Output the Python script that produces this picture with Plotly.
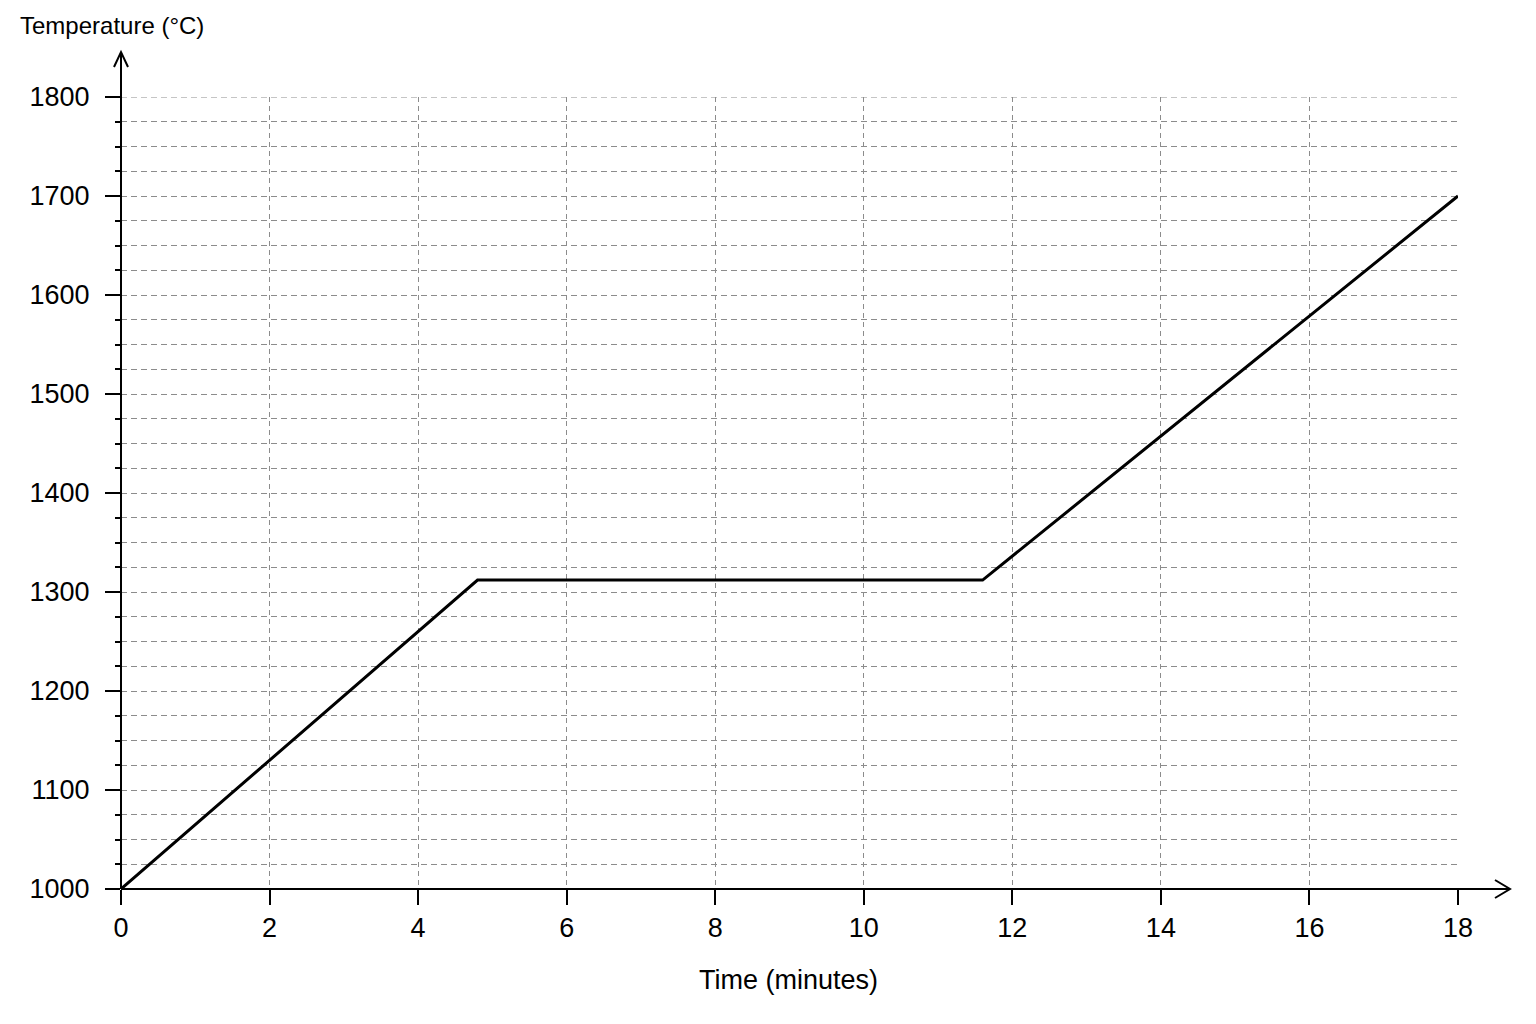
import plotly.graph_objects as go

# readings from the chart
time_min = [0, 4.8, 11.6, 18]
temp_c = [1000, 1312, 1312, 1700]

x_ticks = [0, 2, 4, 6, 8, 10, 12, 14, 16, 18]
y_ticks = [1000, 1100, 1200, 1300, 1400, 1500, 1600, 1700, 1800]

FONT = "Liberation Sans Narrow, Liberation Sans, Arial"
GRID = "#8c8c8c"

# plot area size in px (used to place the axis arrows in paper units)
W, H = 1337, 792

fig = go.Figure()

fig.add_trace(go.Scatter(
    x=time_min,
    y=temp_c,
    mode="lines",
    line=dict(color="black", width=3),
    hoverinfo="skip",
))

# axis lines with open arrow heads
ext_x = 52 / W
ext_y = 45 / H
shapes = [
    # top grid line (plotly drops the one on the range edge)
    dict(type="line", xref="paper", yref="y", x0=0, x1=1,
         y0=y_ticks[-1], y1=y_ticks[-1], layer="below",
         line=dict(color=GRID, width=1, dash="6px,4px")),
    dict(type="line", xref="paper", yref="paper", x0=0, y0=0, x1=1 + ext_x, y1=0,
         line=dict(color="black", width=2), layer="above"),
    dict(type="line", xref="paper", yref="paper", x0=0, y0=0, x1=0, y1=1 + ext_y,
         line=dict(color="black", width=2), layer="above"),
    dict(type="path", xref="paper", yref="paper", layer="above",
         path="M %f,%f L %f,%f L %f,%f" % (1 + ext_x - 15 / W, 9 / H, 1 + ext_x, 0,
                                           1 + ext_x - 15 / W, -9 / H),
         line=dict(color="black", width=2)),
    dict(type="path", xref="paper", yref="paper", layer="above",
         path="M %f,%f L %f,%f L %f,%f" % (-7 / W, 1 + ext_y - 15 / H, 0, 1 + ext_y,
                                           7 / W, 1 + ext_y - 15 / H),
         line=dict(color="black", width=2)),
]

fig.update_layout(
    width=1520,
    height=1008,
    margin=dict(l=113, r=70, t=89, b=127),
    paper_bgcolor="white",
    plot_bgcolor="white",
    showlegend=False,
    font=dict(family=FONT, color="black", size=27),
    shapes=shapes,
    annotations=[
        dict(text="Temperature (°C)", xref="paper", yref="paper",
             x=-9 / W, y=1 + 72 / H, xanchor="center", yanchor="middle",
             showarrow=False, font=dict(family=FONT, size=24, color="black")),
        dict(text="Time (minutes)", xref="paper", yref="paper",
             x=(788 - 121) / W, y=-91 / H, xanchor="center", yanchor="middle",
             showarrow=False, font=dict(family=FONT, size=27, color="black")),
    ],
)

fig.update_xaxes(
    range=[0, 18],
    tickvals=x_ticks,
    ticks="outside",
    ticklen=15,
    tickwidth=2,
    tickcolor="black",
    showgrid=False,
    zeroline=False,
    showline=False,
    minor=dict(tickvals=x_ticks[1:-1], ticks="", showgrid=True,
               gridcolor=GRID, gridwidth=1, griddash="5px,4px"),
    tickfont=dict(family=FONT, size=27, color="black"),
)

fig.update_yaxes(
    range=[1000, 1800],
    tickvals=y_ticks,
    ticks="outside",
    ticklen=15,
    tickwidth=2,
    tickcolor="black",
    ticklabelstandoff=10,
    showgrid=True,
    gridcolor=GRID,
    gridwidth=1,
    griddash="6px,4px",
    zeroline=False,
    showline=False,
    minor=dict(dtick=25, tick0=1000, ticks="outside", ticklen=5, tickwidth=1.5,
               tickcolor="black", showgrid=True, gridcolor=GRID, gridwidth=1,
               griddash="6px,4px"),
    tickfont=dict(family=FONT, size=27, color="black"),
)

fig.write_html("out.html")
